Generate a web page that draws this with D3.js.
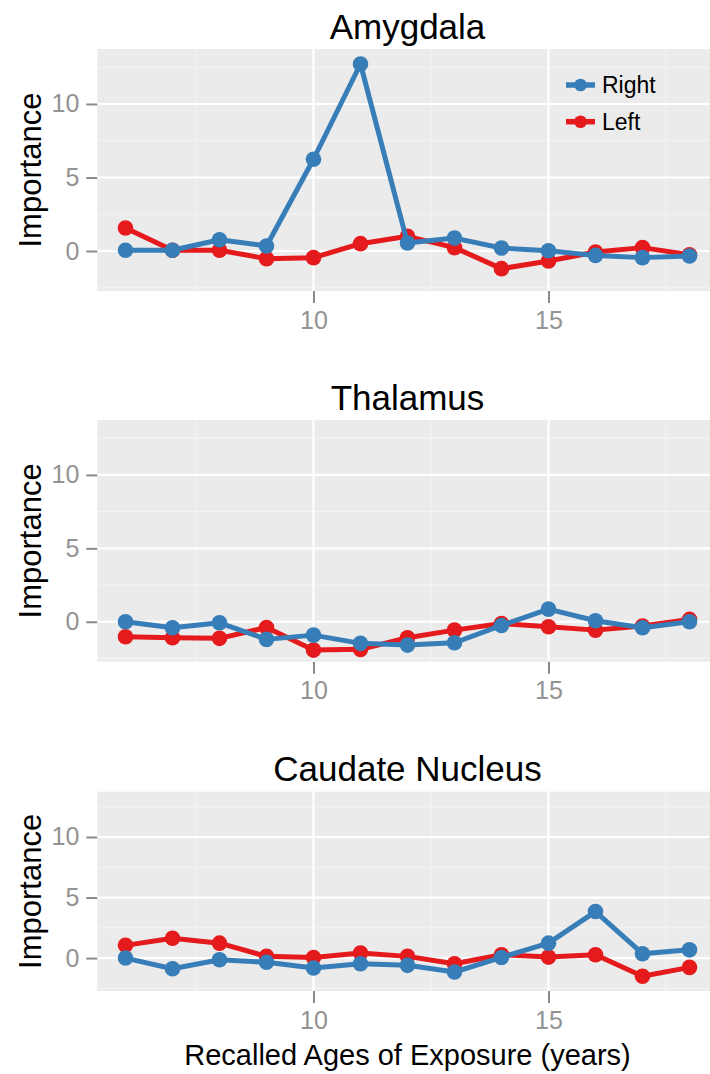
<!DOCTYPE html>
<html>
<head>
<meta charset="utf-8">
<script src="https://cdn.jsdelivr.net/npm/d3@7"></script>
<style>
  html, body { margin: 0; padding: 0; background: #fff; }
  svg { display: block; }
  text { font-family: "Liberation Sans", Arial, Helvetica, sans-serif; }
</style>
</head>
<body>
<svg id="chart" width="710" height="1074"></svg>
<script>
// ---- data ----
const years = [6, 7, 8, 9, 10, 11, 12, 13, 14, 15, 16, 17, 18];
const regions = ["Amygdala", "Thalamus", "Caudate Nucleus"];
const seriesNames = ["Right", "Left"];

const amygdalaRight = [0.05, 0.05, 0.77, 0.34, 6.24, 12.72, 0.54, 0.88, 0.2, 0.02, -0.3, -0.45, -0.34];
const amygdalaLeft  = [1.56, 0.05, 0.05, -0.52, -0.45, 0.5, 1.0, 0.23, -1.2, -0.68, -0.07, 0.23, -0.25];
const thalamusRight = [0.0, -0.41, -0.07, -1.2, -0.91, -1.47, -1.59, -1.43, -0.25, 0.86, 0.07, -0.41, 0.0];
const thalamusLeft  = [-1.02, -1.09, -1.13, -0.39, -1.93, -1.88, -1.09, -0.57, -0.12, -0.34, -0.57, -0.29, 0.16];
const caudateRight  = [0.0, -0.88, -0.14, -0.35, -0.82, -0.47, -0.6, -1.15, 0.05, 1.23, 3.84, 0.36, 0.68];
const caudateLeft   = [1.05, 1.64, 1.23, 0.14, 0.05, 0.41, 0.14, -0.47, 0.27, 0.08, 0.27, -1.5, -0.77];

const xTicks = [10, 15];
const xMinor = [7.5, 12.5, 17.5];
const yTicks = [0, 5, 10];
const yMinor = [-2.5, 2.5, 7.5, 12.5];
const xDomain = [5.4, 18.6];
const yDomain = [-2.72, 13.74];

const regionData = {
  "Amygdala": { Right: amygdalaRight, Left: amygdalaLeft },
  "Thalamus": { Right: thalamusRight, Left: thalamusLeft },
  "Caudate Nucleus": { Right: caudateRight, Left: caudateLeft }
};

// ---- layout / style ----
const colors = { Right: "#377EB8", Left: "#E41A1C" };
const panelLeft = 97.3, panelRight = 717.7;
const layout = [
  { top: 49,    bottom: 291,   titleY: 39 },
  { top: 420,   bottom: 661.7, titleY: 410 },
  { top: 791.7, bottom: 991,   titleY: 781 }
];

const svg = d3.select("#chart");
const x = d3.scaleLinear().domain(xDomain).range([panelLeft, panelRight]);
const line = (yS) => d3.line().x((d) => x(d.x)).y((d) => yS(d.y));

regions.forEach((region, i) => {
  const L = layout[i];
  const y = d3.scaleLinear().domain(yDomain).range([L.bottom, L.top]);
  const g = svg.append("g");

  // panel background
  g.append("rect")
    .attr("x", panelLeft).attr("y", L.top)
    .attr("width", panelRight - panelLeft).attr("height", L.bottom - L.top)
    .attr("fill", "#EBEBEB");

  // minor grid
  g.selectAll(".xminor").data(xMinor).enter().append("line")
    .attr("x1", (d) => x(d)).attr("x2", (d) => x(d))
    .attr("y1", L.top).attr("y2", L.bottom)
    .attr("stroke", "#F4F4F4").attr("stroke-width", 1.2);
  g.selectAll(".yminor").data(yMinor).enter().append("line")
    .attr("x1", panelLeft).attr("x2", panelRight)
    .attr("y1", (d) => y(d)).attr("y2", (d) => y(d))
    .attr("stroke", "#F4F4F4").attr("stroke-width", 1.2);
  // major grid
  g.selectAll(".xmajor").data(xTicks).enter().append("line")
    .attr("x1", (d) => x(d)).attr("x2", (d) => x(d))
    .attr("y1", L.top).attr("y2", L.bottom)
    .attr("stroke", "#FFFFFF").attr("stroke-width", 2.2);
  g.selectAll(".ymajor").data(yTicks).enter().append("line")
    .attr("x1", panelLeft).attr("x2", panelRight)
    .attr("y1", (d) => y(d)).attr("y2", (d) => y(d))
    .attr("stroke", "#FFFFFF").attr("stroke-width", 2.2);

  // axes
  const ax = g.append("g").attr("transform", `translate(${panelLeft},0)`)
    .call(d3.axisLeft(y).tickValues(yTicks).tickSize(11).tickPadding(7).tickFormat(d3.format("d")));
  const bx = g.append("g").attr("transform", `translate(0,${L.bottom})`)
    .call(d3.axisBottom(x).tickValues(xTicks).tickSize(12).tickPadding(8).tickFormat(d3.format("d")));
  [ax, bx].forEach((a) => {
    a.select(".domain").remove();
    a.selectAll(".tick line").attr("stroke", "#8A8A8A").attr("stroke-width", 2);
    a.selectAll(".tick text").attr("fill", "#939393").style("font-size", "25px");
  });

  // title
  g.append("text")
    .attr("x", (panelLeft + panelRight) / 2).attr("y", L.titleY)
    .attr("text-anchor", "middle").style("font-size", "35px").attr("fill", "#000")
    .text(region);

  // y axis title
  g.append("text")
    .attr("transform", `translate(41,${(L.top + L.bottom) / 2}) rotate(-90)`)
    .attr("text-anchor", "middle").style("font-size", "31px").attr("fill", "#000")
    .text("Importance");

  // series: Left first, Right on top
  ["Left", "Right"].forEach((s) => {
    const vals = regionData[region][s];
    const pts = years.map((yr, k) => ({ x: yr, y: vals[k] }));
    g.append("path").datum(pts)
      .attr("d", line(y)).attr("fill", "none")
      .attr("stroke", colors[s]).attr("stroke-width", 5)
      .attr("stroke-linejoin", "round");
    g.selectAll(".pt-" + s).data(pts).enter().append("circle")
      .attr("cx", (d) => x(d.x)).attr("cy", (d) => y(d.y)).attr("r", 7.8)
      .attr("fill", colors[s]);
  });

  // legend in first panel
  if (i === 0) {
    const legY = [85, 121.7];
    seriesNames.forEach((s, k) => {
      const lg = g.append("g");
      lg.append("line").attr("x1", 566).attr("x2", 595)
        .attr("y1", legY[k]).attr("y2", legY[k])
        .attr("stroke", colors[s]).attr("stroke-width", 5.5);
      lg.append("circle").attr("cx", 580.5).attr("cy", legY[k]).attr("r", 6.3)
        .attr("fill", colors[s]);
      lg.append("text").attr("x", 602).attr("y", legY[k])
        .attr("dy", "0.36em").style("font-size", "23px").attr("fill", "#000")
        .text(s);
    });
  }
});

// x axis title
svg.append("text")
  .attr("x", (panelLeft + panelRight) / 2).attr("y", 1065)
  .attr("text-anchor", "middle").style("font-size", "29px").attr("fill", "#000")
  .text("Recalled Ages of Exposure (years)");
</script>
</body>
</html>
